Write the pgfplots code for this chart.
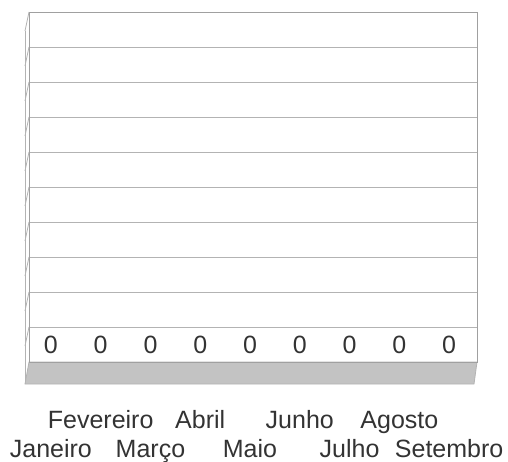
\documentclass[border=0pt]{standalone}
\usepackage{fontspec}
\setmainfont{Liberation Sans}
\usepackage{pgfplots}
\pgfplotsset{compat=1.18}
\definecolor{gridc}{HTML}{B3B3B3}
\definecolor{edgec}{HTML}{A0A0A0}
\definecolor{floorc}{HTML}{C3C3C3}
\definecolor{txt}{HTML}{333333}
\begin{document}
\begin{tikzpicture}[x=1pt,y=1pt]
\path[use as bounding box] (0,0) rectangle (508,461);
% side wall (3D depth) and floor
\draw[gridc, line width=0.8pt] (25,77) -- (25,430);
\foreach \g in {12,47,82,117,152,187,222,257,292,327}{
  \draw[gridc, line width=0.8pt] (29,461-\g) -- (25,461-\g-19);
}
\draw[gridc, line width=0.8pt, fill=floorc] (29,99) -- (477,99) -- (474,77) -- (25,77) -- cycle;
\begin{axis}[
  at={(29pt,99pt)}, anchor=south west,
  scale only axis, width=448pt, height=350pt,
  xmin=-0.44, xmax=8.56, ymin=0, ymax=10,
  ytick={0,1,...,10}, yticklabels={},
  ymajorgrids, grid style={gridc, line width=0.8pt},
  major tick length=0pt,
  axis line style={edgec, line width=0.8pt},
  xtick={0,1,...,8},
  xticklabels={\raisebox{-29pt}{Janeiro}, Fevereiro, \raisebox{-29pt}{Março}, Abril, \raisebox{-29pt}{Maio}, Junho, \raisebox{-29pt}{Julho}, Agosto, \raisebox{-29pt}{Setembro}},
  xticklabel style={anchor=base, yshift=-66pt, text=txt, font=\fontsize{25}{30}\selectfont, inner sep=0pt},
  clip=false,
  /pgf/number format/assume math mode=true,
]
\addplot[draw=none, mark=none,
  nodes near coords,
  every node near coord/.append style={anchor=base, yshift=8.5pt, inner sep=0pt, text=txt, font=\fontsize{25}{30}\selectfont},
] coordinates {(0,0) (1,0) (2,0) (3,0) (4,0) (5,0) (6,0) (7,0) (8,0)};
\end{axis}
\end{tikzpicture}
\end{document}
